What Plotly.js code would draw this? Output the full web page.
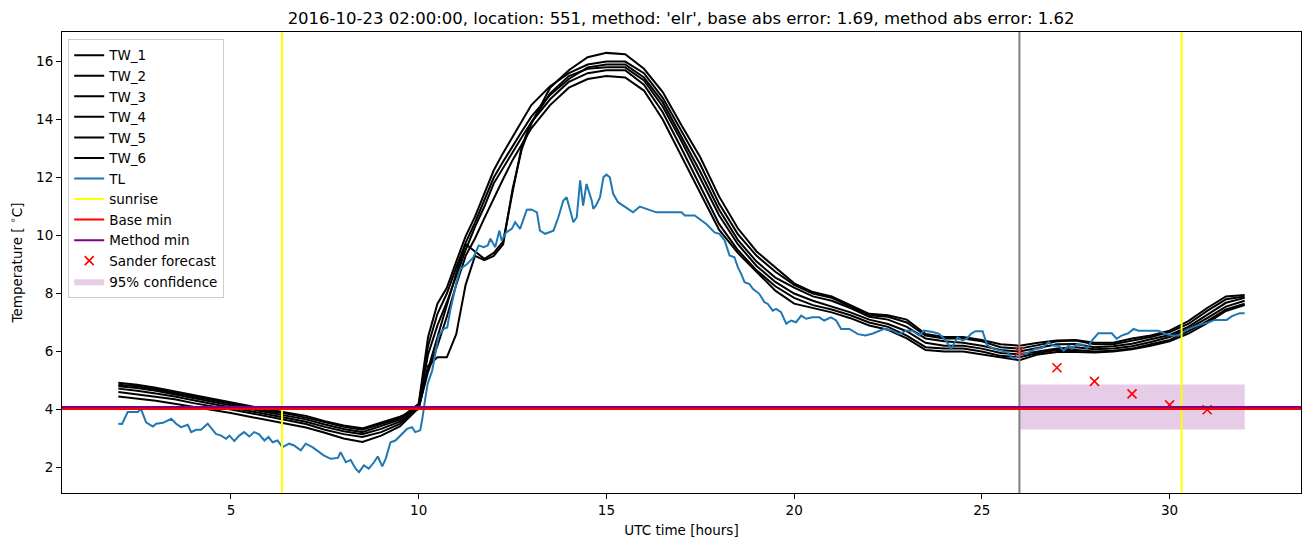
<!DOCTYPE html>
<html>
<head>
<meta charset="utf-8">
<script src="https://cdn.plot.ly/plotly-3.0.1.min.js"></script>
<style>html,body{margin:0;padding:0;background:#fff;}#chart{width:1311px;height:547px;}</style>
</head>
<body>
<div id="chart"></div>
<script>
// ---- data ----
const tw_hours = [2,2.5,3,3.5,4,4.5,5,5.5,6,6.5,7,7.5,8,8.5,9,9.5,
  10,10.25,10.5,10.75,11,11.25,11.5,11.75,12,12.25,12.5,12.75,13,13.5,14,14.5,15,15.5,
  16,16.5,17,17.5,18,18.5,19,19.5,20,20.5,21,21.5,22,22.5,23,23.5,24,24.5,25,25.5,26,26.5,27,27.5,28,28.5,29,29.5,30,30.5,31,31.5,32];

const tw_1 = [4.92,4.85,4.75,4.62,4.50,4.38,4.25,4.12,4.00,3.90,3.78,3.60,3.45,3.35,3.55,3.75,
  4.02,5.5,5.8,5.8,6.6,8.3,9.3,9.15,9.3,9.7,11.6,13.0,13.85,15.1,15.7,16.15,16.3,16.25,
  15.75,14.95,13.8,12.7,11.35,10.25,9.45,8.9,8.35,8.05,7.9,7.6,7.3,7.25,7.1,6.6,6.5,6.5,6.4,6.25,6.2,6.3,6.38,6.4,6.3,6.3,6.45,6.55,6.72,7.05,7.5,7.9,7.95];
const tw_2 = [4.85,4.80,4.70,4.58,4.45,4.33,4.20,4.08,3.95,3.85,3.72,3.55,3.40,3.30,3.50,3.70,
  4.2,6.5,7.65,8.2,9.1,9.97,10.65,11.45,12.25,12.85,13.4,14.0,14.5,15.15,15.6,15.9,16.0,16.0,
  15.6,14.75,13.6,12.45,11.1,10.05,9.3,8.75,8.3,8.0,7.85,7.55,7.25,7.2,7.0,6.55,6.45,6.45,6.35,6.15,6.1,6.22,6.35,6.38,6.25,6.25,6.38,6.5,6.67,6.95,7.4,7.8,7.9];
const tw_3 = [4.80,4.74,4.65,4.52,4.40,4.28,4.15,4.02,3.90,3.78,3.66,3.48,3.33,3.22,3.43,3.65,
  4.15,6.2,7.3,8.0,8.9,9.75,10.45,11.2,12.0,12.55,13.1,13.6,14.1,14.85,15.4,15.8,15.9,15.9,
  15.45,14.6,13.4,12.2,10.9,9.85,9.1,8.55,8.2,7.9,7.75,7.5,7.2,7.1,6.85,6.45,6.35,6.3,6.2,6.05,6.0,6.12,6.25,6.26,6.15,6.18,6.27,6.42,6.57,6.85,7.28,7.68,7.85];
const tw_4 = [4.72,4.65,4.55,4.45,4.32,4.20,4.08,3.95,3.82,3.70,3.58,3.40,3.25,3.15,3.33,3.58,
  4.08,5.4,6.5,7.6,8.7,9.7,9.45,9.2,9.4,9.8,11.5,13.1,13.9,14.9,15.5,15.75,15.8,15.8,
  15.35,14.45,13.25,12.0,10.7,9.7,8.95,8.4,8.0,7.75,7.55,7.35,7.1,6.95,6.7,6.3,6.2,6.2,6.1,5.95,5.9,6.0,6.1,6.15,6.08,6.1,6.18,6.33,6.5,6.78,7.15,7.55,7.75];
const tw_5 = [4.60,4.52,4.45,4.35,4.22,4.12,4.00,3.88,3.75,3.62,3.50,3.30,3.15,3.05,3.22,3.50,
  4.1,5.9,6.9,7.7,8.6,9.5,10.3,11.0,11.8,12.35,12.9,13.4,13.9,14.7,15.3,15.6,15.7,15.7,
  15.2,14.25,13.0,11.7,10.4,9.5,8.8,8.25,7.85,7.6,7.45,7.25,7.0,6.85,6.55,6.15,6.1,6.1,6.0,5.85,5.8,5.95,6.05,6.05,6.0,6.03,6.1,6.25,6.4,6.7,7.05,7.45,7.65];
const tw_6 = [4.45,4.38,4.30,4.20,4.10,4.00,3.88,3.75,3.62,3.50,3.38,3.20,3.00,2.88,3.10,3.42,
  4.05,5.3,6.2,7.2,8.3,9.3,9.9,10.6,11.3,11.95,12.6,13.15,13.7,14.5,15.1,15.4,15.5,15.45,
  15.0,14.0,12.75,11.45,10.2,9.4,8.75,8.1,7.65,7.5,7.35,7.15,6.9,6.75,6.45,6.05,6.0,6.0,5.9,5.78,5.7,5.9,5.98,5.98,5.97,6.0,6.08,6.2,6.35,6.62,6.98,7.4,7.6];

const tl_hours = [2.0,2.1,2.25,2.52,2.6,2.74,2.92,3.01,3.19,3.41,3.54,3.67,3.85,3.94,4.07,4.2,4.38,4.6,4.74,4.87,4.96,
  5.09,5.22,5.35,5.49,5.62,5.75,5.89,6.0,6.11,6.24,6.37,6.55,6.68,6.86,6.99,7.17,7.35,7.48,7.66,7.85,7.92,
  8.06,8.19,8.32,8.41,8.54,8.67,8.81,8.91,9.03,9.12,9.25,9.38,9.47,9.56,9.69,9.82,9.91,10.04,10.09,10.18,
  10.24,10.36,10.45,10.53,10.67,10.76,10.84,10.93,11.02,11.11,11.29,11.46,11.6,11.73,11.84,11.91,12.04,
  12.15,12.21,12.33,12.48,12.57,12.7,12.88,13.0,13.15,13.23,13.37,13.5,13.59,13.72,13.85,13.94,14.03,
  14.12,14.21,14.3,14.38,14.47,14.61,14.65,14.72,14.83,14.92,15.0,15.09,15.18,15.31,15.45,15.58,15.71,
  15.89,16.07,16.33,17.0,17.09,17.35,17.48,17.66,17.88,18.01,18.15,18.28,18.41,18.5,18.59,18.68,18.81,
  18.9,19.07,19.21,19.3,19.43,19.52,19.65,19.79,19.92,20.05,20.19,20.32,20.49,20.67,20.8,20.98,21.12,
  21.25,21.47,21.7,21.9,22.1,22.26,22.4,22.62,22.8,22.98,23.15,23.33,23.46,23.69,23.86,24.04,24.18,
  24.35,24.49,24.6,24.71,24.83,25.02,25.14,25.32,25.5,25.67,25.81,25.9,26.07,26.2,26.43,26.6,26.78,
  26.91,27.05,27.18,27.31,27.4,27.53,27.67,27.8,27.93,28.1,28.28,28.46,28.59,28.72,28.9,29.04,29.17,
  29.35,29.52,29.7,29.88,30.05,30.23,30.32,30.46,30.63,30.81,30.98,31.21,31.52,31.65,31.78,31.87,32.0];
const tl_values = [3.51,3.5,3.91,3.91,4.03,3.56,3.41,3.51,3.54,3.68,3.51,3.39,3.47,3.22,3.30,3.30,3.51,3.16,3.10,2.99,3.10,
  2.91,3.10,3.22,3.07,3.22,3.14,2.93,3.05,2.87,2.93,2.70,2.82,2.76,2.59,2.82,2.70,2.53,2.41,2.30,2.33,2.53,
  2.18,2.26,1.96,1.84,2.07,1.96,2.18,2.38,2.04,2.30,2.87,2.93,3.05,3.16,3.33,3.39,3.22,3.28,3.62,4.42,
  4.89,5.34,6.03,6.55,6.78,6.83,7.41,7.99,8.45,8.85,9.02,9.25,9.66,9.6,9.66,9.89,9.6,
  10.17,9.83,10.11,10.23,10.46,10.23,10.89,10.9,10.8,10.17,10.06,10.11,10.17,10.63,11.2,11.32,10.86,
  10.46,10.63,11.9,11.03,11.78,11.2,10.92,11.03,11.32,12.01,12.1,12.01,11.44,11.15,11.03,10.89,10.8,
  11.0,10.92,10.8,10.8,10.69,10.69,10.57,10.4,10.11,10.06,9.83,9.31,9.25,8.91,8.68,8.39,8.33,
  8.16,7.99,7.7,7.64,7.41,7.47,7.36,6.96,7.07,7.01,7.24,7.13,7.18,7.18,7.07,7.18,7.07,
  6.78,6.78,6.6,6.55,6.62,6.72,6.78,6.72,6.61,6.72,6.72,6.55,6.72,6.67,6.61,6.38,6.09,
  6.49,6.38,6.44,6.61,6.70,6.70,6.21,6.09,6.03,5.98,5.78,5.78,5.94,5.94,6.09,6.12,6.32,
  6.2,6.2,6.03,6.2,6.09,6.24,6.24,6.12,6.38,6.63,6.63,6.63,6.44,6.55,6.63,6.78,6.72,
  6.72,6.72,6.72,6.61,6.55,6.55,6.63,6.75,6.84,6.93,6.98,7.09,7.09,7.21,7.28,7.32,7.32];

const sunrise_hours = [6.36, 30.32];
const forecast_start = 26;
const base_min = 4.02;
const method_min = 4.09;
const sander_hours = [26, 27, 28, 29, 30, 31];
const sander_values = [6.0, 5.44, 4.97, 4.54, 4.16, 3.99];
const ci_hours = [26, 27, 28, 29, 30, 31, 32];
const ci_lower = [3.31, 3.31, 3.31, 3.31, 3.31, 3.31, 3.31];
const ci_upper = [4.86, 4.86, 4.86, 4.86, 4.86, 4.86, 4.86];

const titleText = "2016-10-23 02:00:00, location: 551, method: 'elr', base abs error: 1.69, method abs error: 1.62";

// ---- traces ----
const FONT = "DejaVu Sans, Liberation Sans, sans-serif";
const traces = [];
// confidence band (drawn first, listed last)
traces.push({
  x: ci_hours.concat(ci_hours.slice().reverse()),
  y: ci_upper.concat(ci_lower.slice().reverse()),
  type: 'scatter', mode: 'lines', fill: 'toself',
  fillcolor: 'rgba(128,0,128,0.2)', line: {width: 0, color: 'rgba(128,0,128,0)'},
  name: '95% confidence', legendrank: 12, hoverinfo: 'skip'
});
const tws = [tw_1, tw_2, tw_3, tw_4, tw_5, tw_6];
tws.forEach((arr, i) => {
  traces.push({x: tw_hours, y: arr, type: 'scatter', mode: 'lines',
    line: {color: '#000000', width: 2}, name: 'TW_' + (i + 1), legendrank: i + 1});
});
traces.push({x: tl_hours, y: tl_values, type: 'scatter', mode: 'lines',
  line: {color: '#1f77b4', width: 2}, name: 'TL', legendrank: 7});
traces.push({x: sander_hours, y: sander_values, type: 'scatter', mode: 'markers',
  marker: {symbol: 'x-thin-open', size: 9, color: '#ff0000', line: {color: '#ff0000', width: 1.6}},
  name: 'Sander forecast', legendrank: 11});

// ---- shapes ----
const shapes = [];
sunrise_hours.forEach((h, i) => {
  shapes.push({type: 'line', xref: 'x', yref: 'paper', x0: h, x1: h, y0: 0, y1: 1,
    line: {color: '#ffff00', width: 2}, layer: 'above',
    showlegend: i === 0, name: 'sunrise', legendrank: 8});
});
shapes.push({type: 'line', xref: 'x', yref: 'paper', x0: forecast_start, x1: forecast_start, y0: 0, y1: 1,
  line: {color: '#808080', width: 2}, layer: 'above', showlegend: false});
shapes.push({type: 'line', xref: 'paper', yref: 'y', x0: 0, x1: 1, y0: base_min, y1: base_min,
  line: {color: '#ff0000', width: 2}, layer: 'above', showlegend: true, name: 'Base min', legendrank: 9});
shapes.push({type: 'line', xref: 'paper', yref: 'y', x0: 0, x1: 1, y0: method_min, y1: method_min,
  line: {color: '#800080', width: 2}, layer: 'above', showlegend: true, name: 'Method min', legendrank: 10});

const layout = {
  width: 1311, height: 547,
  margin: {l: 62, r: 10, t: 32, b: 54, pad: 0},
  paper_bgcolor: '#ffffff', plot_bgcolor: '#ffffff',
  font: {family: FONT, size: 13.5, color: '#000000'},
  title: {text: titleText, font: {family: FONT, size: 16.5, color: '#000'}, x: 0.5195, xanchor: 'center', y: 0.967, yanchor: 'middle'},
  xaxis: {
    range: [0.5, 33.5], tickvals: [5, 10, 15, 20, 25, 30], ticktext: ['5', '10', '15', '20', '25', '30'],
    showgrid: false, zeroline: false, showline: true, mirror: true, linecolor: '#000', linewidth: 1,
    ticks: 'outside', ticklen: 5, tickwidth: 1, tickcolor: '#000',
    tickfont: {family: FONT, size: 13.5},
    title: {text: 'UTC time [hours]', font: {family: FONT, size: 13.5}, standoff: 8}
  },
  yaxis: {
    range: [1.12, 17.02], tickvals: [2, 4, 6, 8, 10, 12, 14, 16],
    showgrid: false, zeroline: false, showline: true, mirror: true, linecolor: '#000', linewidth: 1,
    ticks: 'outside', ticklen: 5, tickwidth: 1, tickcolor: '#000',
    tickfont: {family: FONT, size: 13.5},
    title: {text: 'Temperature [ <sup>∘</sup>C]', font: {family: FONT, size: 13.5}, standoff: 10}
  },
  showlegend: true,
  legend: {
    x: 0.005, y: 0.985, xanchor: 'left', yanchor: 'top',
    bgcolor: 'rgba(255,255,255,0.8)', bordercolor: '#cccccc', borderwidth: 1,
    font: {family: FONT, size: 13.5, color: '#000'}, traceorder: 'normal'
  },
  shapes: shapes
};

Plotly.newPlot('chart', traces, layout, {displayModeBar: false, staticPlot: true});
</script>
</body>
</html>
